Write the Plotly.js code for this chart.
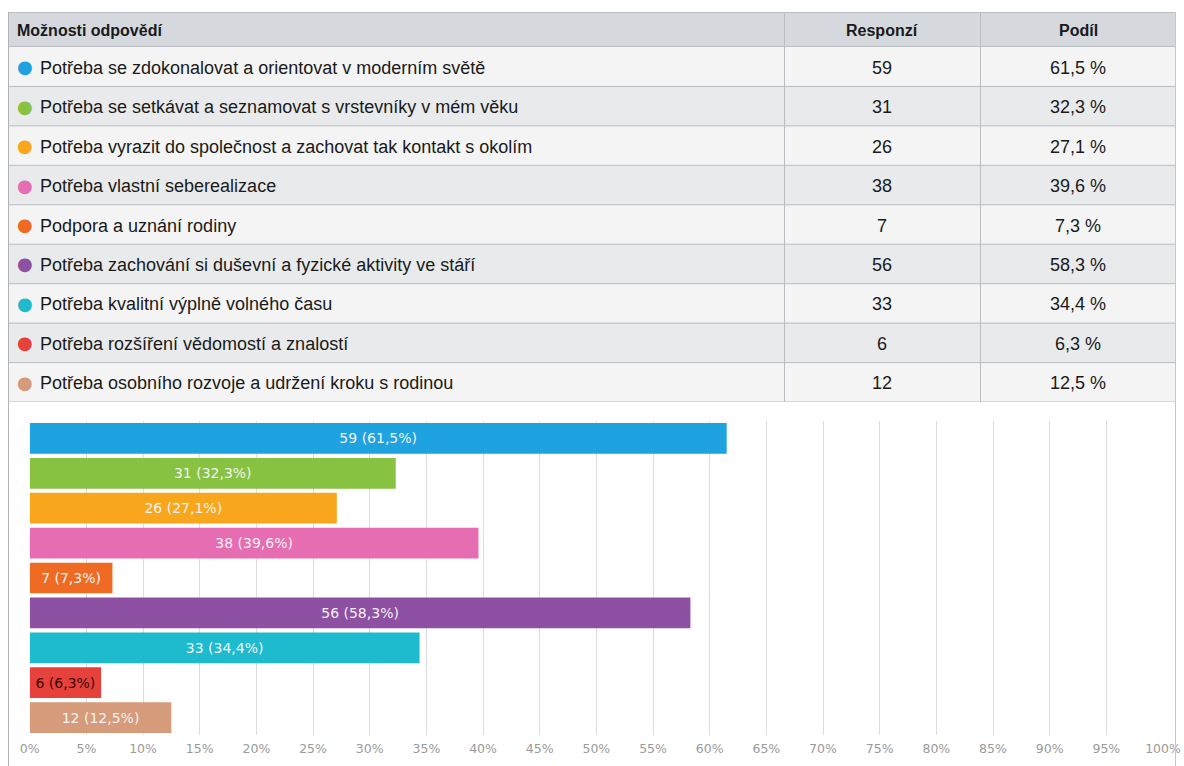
<!DOCTYPE html>
<html>
<head>
<meta charset="utf-8">
<script src="https://cdn.plot.ly/plotly-3.0.1.min.js"></script>
<style>html,body{margin:0;padding:0;background:#fff;}#chart{width:1184px;height:766px;}</style>
</head>
<body>
<div id="chart"></div>
<script>
const headerLabels = ["Možnosti odpovědí", "Responzí", "Podíl"];
const answers = [
  "Potřeba se zdokonalovat a orientovat v moderním světě",
  "Potřeba se setkávat a seznamovat s vrstevníky v mém věku",
  "Potřeba vyrazit do společnost a zachovat tak kontakt s okolím",
  "Potřeba vlastní seberealizace",
  "Podpora a uznání rodiny",
  "Potřeba zachování si duševní a fyzické aktivity ve stáří",
  "Potřeba kvalitní výplně volného času",
  "Potřeba rozšíření vědomostí a znalostí",
  "Potřeba osobního rozvoje a udržení kroku s rodinou"
];
const responses = [59, 31, 26, 38, 7, 56, 33, 6, 12];
const shares = [61.5, 32.3, 27.1, 39.6, 7.3, 58.3, 34.4, 6.3, 12.5];
const colors = ["#1ea2e0", "#87c240", "#f8a71d", "#e76db2", "#ef6b23", "#8e50a2", "#1ebbcf", "#e6413a", "#d69b7a"];
const labelColors = ["#f2f2f2", "#f2f2f2", "#f2f2f2", "#f2f2f2", "#f2f2f2", "#f2f2f2", "#f2f2f2", "#3a0505", "#f2f2f2"];
const xTicks = [0,5,10,15,20,25,30,35,40,45,50,55,60,65,70,75,80,85,90,95,100];

const W = 1184, H = 766;
const fmt = v => v.toFixed(1).replace('.', ',');
const px = v => v / W;            // horizontal pixel -> paper
const py = v => 1 - v / H;        // vertical pixel -> paper

// table geometry (pixels)
const T = {left: 8, right: 1176, top: 12, headBottom: 47, bottom: 402, c1: 784, c2: 980};
const lineCol = '#b9bdc1';
const txtFont = {family: 'Liberation Sans, Arial, sans-serif', size: 18, color: '#1a1a1a'};
const headFont = {family: 'Liberation Sans, Arial, sans-serif', size: 16, color: '#1a1a1a'};

const rowIdx = answers.map((a, i) => i);
const rowFill = rowIdx.map(i => i % 2 === 0 ? '#f4f4f4' : '#e8eaec');

const shapes = [];
// header background
shapes.push({type: 'rect', xref: 'paper', yref: 'paper', layer: 'below',
  x0: px(T.left), x1: px(T.right), y0: py(T.headBottom), y1: py(T.top),
  fillcolor: '#d5d9dd', line: {width: 0}});
// body rows (on the hidden row-index axis y2)
rowIdx.forEach(i => {
  shapes.push({type: 'rect', xref: 'paper', yref: 'y2', layer: 'below',
    x0: px(T.left), x1: px(T.right), y0: i - 0.5, y1: i + 0.5,
    fillcolor: rowFill[i], line: {width: 0}});
});
// horizontal separators
shapes.push({type: 'line', xref: 'paper', yref: 'paper', x0: px(T.left), x1: px(T.right),
  y0: py(T.top + 0.5), y1: py(T.top + 0.5), line: {color: lineCol, width: 1}});
shapes.push({type: 'line', xref: 'paper', yref: 'paper', x0: px(T.left), x1: px(T.right),
  y0: py(T.headBottom - 0.5), y1: py(T.headBottom - 0.5), line: {color: lineCol, width: 1}});
for (let k = 1; k <= answers.length; k++) {
  shapes.push({type: 'line', xref: 'paper', yref: 'y2', x0: px(T.left), x1: px(T.right),
    y0: k - 0.5, y1: k - 0.5, line: {color: lineCol, width: 1}});
}
// column separators
[T.c1, T.c2].forEach(c => shapes.push({type: 'line', xref: 'paper', yref: 'paper',
  x0: px(c + 0.5), x1: px(c + 0.5), y0: py(T.bottom), y1: py(T.top), line: {color: lineCol, width: 1}}));
// outer frame (table + chart)
shapes.push({type: 'line', xref: 'paper', yref: 'paper', x0: px(T.left + 0.5), x1: px(T.left + 0.5),
  y0: 0, y1: py(T.top), line: {color: '#b0b4b8', width: 1}});
shapes.push({type: 'line', xref: 'paper', yref: 'paper', x0: px(T.right - 0.5), x1: px(T.right - 0.5),
  y0: 0, y1: py(T.top), line: {color: '#c4c8cc', width: 1}});

const annotations = [];
const headY = py((T.top + T.headBottom) / 2);
annotations.push({xref: 'paper', yref: 'paper', x: px(T.left + 7), y: headY, xanchor: 'left', yanchor: 'middle',
  yshift: -1, text: '<b>' + headerLabels[0] + '</b>', showarrow: false, font: headFont});
annotations.push({xref: 'paper', yref: 'paper', x: px((T.c1 + T.c2) / 2), y: headY, xanchor: 'center', yanchor: 'middle',
  yshift: -1, text: '<b>' + headerLabels[1] + '</b>', showarrow: false, font: headFont});
annotations.push({xref: 'paper', yref: 'paper', x: px((T.c2 + T.right) / 2), y: headY, xanchor: 'center', yanchor: 'middle',
  yshift: -1, text: '<b>' + headerLabels[2] + '</b>', showarrow: false, font: headFont});
rowIdx.forEach(i => {
  annotations.push({xref: 'paper', yref: 'y2', x: px(24.5), y: i, xanchor: 'center', yanchor: 'middle',
    text: '●', showarrow: false, font: {family: 'DejaVu Sans, sans-serif', size: 18, color: colors[i]}});
  annotations.push({xref: 'paper', yref: 'y2', x: px(38), y: i, xanchor: 'left', yanchor: 'middle', yshift: -1,
    text: answers[i], showarrow: false, font: txtFont});
  annotations.push({xref: 'paper', yref: 'y2', x: px((T.c1 + T.c2) / 2), y: i, xanchor: 'center', yanchor: 'middle', yshift: -1,
    text: String(responses[i]), showarrow: false, font: txtFont});
  annotations.push({xref: 'paper', yref: 'y2', x: px((T.c2 + T.right) / 2), y: i, xanchor: 'center', yanchor: 'middle', yshift: -1,
    text: fmt(shares[i]) + ' %', showarrow: false, font: txtFont});
});

const bars = {
  type: 'bar',
  orientation: 'h',
  y: answers,
  x: shares,
  marker: {color: colors},
  text: responses.map((r, i) => r + ' (' + fmt(shares[i]) + '%)'),
  textposition: 'inside',
  insidetextanchor: 'middle',
  constraintext: 'none',
  textfont: {family: 'DejaVu Sans, sans-serif', size: 14, color: labelColors},
  hoverinfo: 'none',
  xaxis: 'x',
  yaxis: 'y',
  showlegend: false
};

const layout = {
  width: W, height: H,
  margin: {l: 0, r: 0, t: 0, b: 0},
  paper_bgcolor: '#ffffff',
  plot_bgcolor: 'rgba(0,0,0,0)',
  showlegend: false,
  bargap: 0.12,
  xaxis: {
    domain: [px(29.7), px(1163)],
    range: [0, 100],
    tickvals: xTicks,
    ticktext: xTicks.map(t => t + '%'),
    showgrid: true, gridcolor: '#dcdcdc', gridwidth: 1,
    zeroline: false, showline: false,
    ticks: '', ticklen: 0,
    ticklabelstandoff: 4,
    tickfont: {family: 'DejaVu Sans, sans-serif', size: 12.5, color: '#9a9a9a'},
    fixedrange: true
  },
  yaxis: {
    domain: [py(735), py(421)],
    autorange: 'reversed',
    showticklabels: false,
    showgrid: false, zeroline: false, showline: false,
    fixedrange: true
  },
  xaxis2: {domain: [px(T.left), px(T.right)], range: [0, 1], anchor: 'y2', visible: false, fixedrange: true},
  yaxis2: {domain: [py(T.bottom), py(T.headBottom)], range: [answers.length - 0.5, -0.5], anchor: 'x2', visible: false, fixedrange: true},
  annotations: annotations,
  shapes: shapes
};

Plotly.newPlot('chart', [bars], layout, {displayModeBar: false, staticPlot: true});
</script>
</body>
</html>
